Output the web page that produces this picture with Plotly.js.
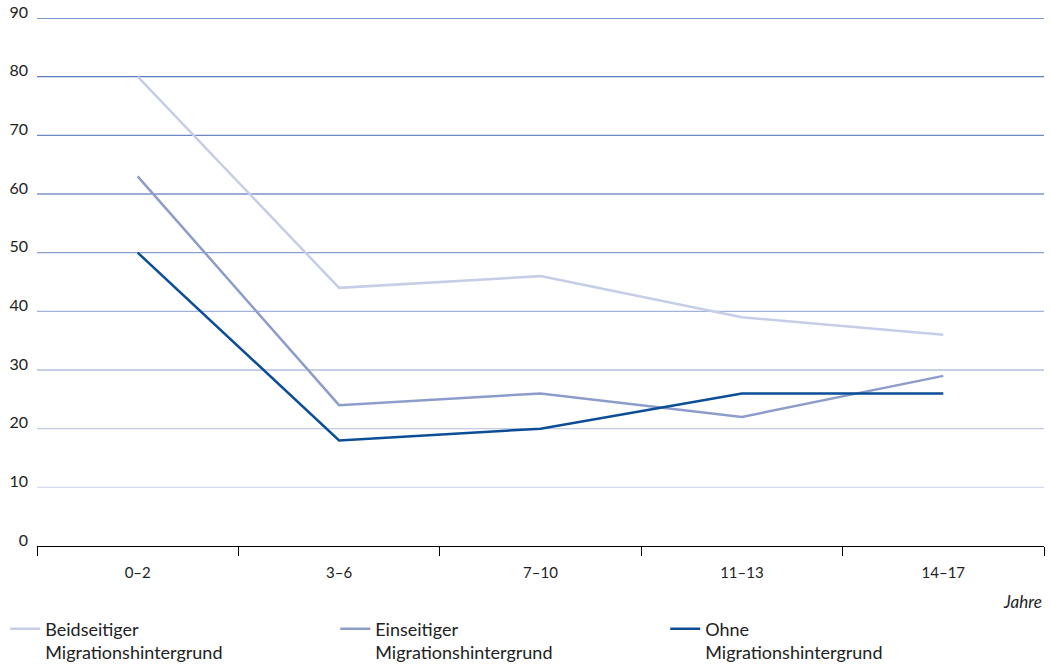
<!DOCTYPE html>
<html><head><meta charset="utf-8">
<script src="https://cdn.plot.ly/plotly-3.0.1.min.js"></script>
<style>body{margin:0;background:#fff}#c{width:1051px;height:665px}</style>
</head><body><div id="c"></div>
<script>
const categories = ["0–2", "3–6", "7–10", "11–13", "14–17"];
const beidseitig = [80, 44, 46, 39, 36];
const einseitig = [63, 24, 26, 22, 29];
const ohne = [50, 18, 20, 26, 26];
const seriesNames = ["Beidseitiger<br>Migrationshintergrund", "Einseitiger<br>Migrationshintergrund", "Ohne<br>Migrationshintergrund"];
const yTicks = [0, 10, 20, 30, 40, 50, 60, 70, 80, 90];
const gridColors = ["#d5dbee", "#c3cbe6", "#b3bfe0", "#a2b2da", "#8aa0cf", "#7b93c8", "#6c88c3", "#5b7dbd", "#4f76b8"];

const font = "Lato, 'Open Sans', sans-serif";
const traces = [
  {x: categories, y: beidseitig, name: seriesNames[0], color: "#c6cde6"},
  {x: categories, y: einseitig, name: seriesNames[1], color: "#8c9dcb"},
  {x: categories, y: ohne, name: seriesNames[2], color: "#0b4e96"}
].map(s => ({type: "scatter", mode: "lines", x: s.x, y: s.y, name: s.name,
  line: {color: s.color, width: 2.5}, hoverinfo: "skip"}));

const shapes = yTicks.slice(1).map((v, i) => ({
  type: "line", xref: "paper", yref: "y", x0: 0, x1: 1, y0: v, y1: v,
  line: {color: gridColors[i], width: 1.3}, layer: "below"
}));

const layout = {
  width: 1051, height: 665,
  margin: {l: 37, r: 7, t: 18, b: 119},
  paper_bgcolor: "#fff", plot_bgcolor: "#fff",
  showlegend: true,
  font: {family: font, color: "#222", size: 16},
  xaxis: {type: "category", range: [-0.5, 4.5], showgrid: false, zeroline: false,
    showline: true, linecolor: "#000", linewidth: 1,
    ticks: "outside", tickson: "boundaries", ticklen: 9, tickcolor: "#000", tickwidth: 1,
    tickfont: {size: 15, family: font, color: "#222"}, ticklabelstandoff: 13, fixedrange: true},
  yaxis: {range: [0, 90], tickvals: yTicks, ticktext: yTicks.map(String), showgrid: false,
    zeroline: false, showline: false, ticks: "", ticklabelshift: -6, ticklabelstandoff: 8,
    tickfont: {size: 16, family: font, color: "#222"}, fixedrange: true},
  shapes: shapes,
  legend: {orientation: "h", x: 0.005, xref: "container", y: 0.082, yref: "container", xanchor: "left", yanchor: "top",
    valign: "top", entrywidth: 285, entrywidthmode: "pixels", traceorder: "normal",
    font: {size: 18, family: font, color: "#222"}, itemwidth: 30},
  annotations: [{text: "<i>Jahre</i>", xref: "paper", yref: "paper", x: 1, y: -0.105,
    xanchor: "right", yanchor: "middle", showarrow: false, font: {size: 17, family: font, color: "#222"}}]
};
Plotly.newPlot("c", traces, layout, {displayModeBar: false, staticPlot: true});
</script></body></html>
